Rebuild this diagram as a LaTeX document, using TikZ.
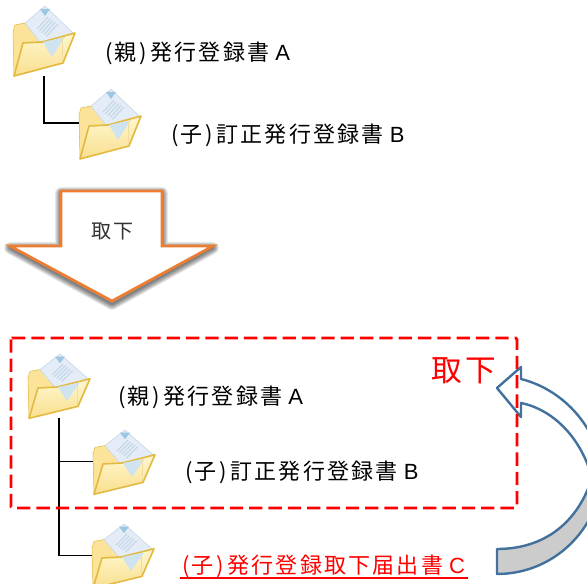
\documentclass[tikz,border=0pt]{standalone}
\usepackage{fontspec}
\usepackage{xcolor}
\setmainfont{Liberation Sans}
\newfontfamily\cjk[LetterSpace=10]{Noto Sans CJK JP}
\definecolor{orangeline}{HTML}{ED7D31}
\definecolor{blueline}{HTML}{41719C}
\definecolor{folderline}{HTML}{E3B93F}
\definecolor{folderback}{HTML}{FBE39A}
\definecolor{foldertop}{HTML}{FFF7CF}
\definecolor{folderbottom}{HTML}{F9DF8E}
\definecolor{docfill}{HTML}{E4EDF7}
\definecolor{docline}{HTML}{C3D5E6}
\definecolor{docflap}{HTML}{CFE3F0}
\definecolor{doctip}{HTML}{9CC6E3}
\def\doclabel#1#2{{\cjk (#1)\hspace{3pt}#2}}
\tikzset{
	label text/.style={inner sep=0pt, font=\fontsize{16.5}{20}\selectfont},
	folder/.pic={
		\draw [folderline, fill=folderback, line join=round] (1,-27) -- (3,-20) -- (13,-18) -- (34,-30) -- (30,-50) -- (2,-71) -- cycle;
		\draw [docline, fill=docfill] (33,-1) -- (61,-28) -- (38,-50) -- (13,-18) -- cycle;
		\fill [doctip] (28,-4) -- (38,-4) -- (33,-11) -- cycle;
		\foreach \t in {0,1,2,3,4}
			\draw [docline, thick] (36+\t*2.4,-12+\t*-1.8) -- (25+\t*2.4,-24+\t*-1.8);
		\draw [folderline, very thick, top color=foldertop, bottom color=folderbottom, line join=round] (2,-71) -- (11,-38) -- (30,-37) -- (63,-28) -- (51,-58) -- cycle;
		\fill [docflap] (31,-37) -- (53,-32) -- (40,-52) -- cycle;
		\draw [folderline!50!white] (50,-33) -- (50,-56);
		\coordinate (-s) at (32,-71);
		\coordinate (-w) at (1,-35);
	}
}

\begin{document}
\begin{tikzpicture}[x=0.75pt, y=0.75pt]
	\clip (0,0) rectangle (587,-584);
	\fill [white] (0,0) rectangle (587,-584);

	% upper tree
	\pic (fa) at (12,-5) {folder};
	\pic (fb) at (78,-88) {folder};
	\draw [thick] (fa-s) |- (fb-w);
	\node [label text, right] (la) at (105,-53) {\doclabel{親}{発行登録書} A};
	\node [label text, right] (lb) at (171,-135) {\doclabel{子}{訂正発行登録書} B};

	% big arrow
	\foreach \w in {1,2,...,9}
		\draw [black, opacity=0.07, line width=\w pt, line join=round] (61,-193) -- (162,-193) -- (162,-248) -- (213,-248) -- (112,-304) -- (10,-248) -- (61,-248) -- cycle;
	\draw [orangeline, line width=2pt, fill=white] (61,-191) -- (162,-191) -- (162,-246) -- (213,-246) -- (112,-301) -- (10,-246) -- (61,-246) -- cycle;
	\node [font=\fontsize{15}{18}\selectfont, black!80] (down) at (112,-232) {\cjk 取下};

	% lower tree
	\pic [yscale=0.92] (fc) at (27,-353) {folder};
	\pic [yscale=0.92] (fd) at (92,-429) {folder};
	\pic [yscale=0.92] (fe) at (91,-523) {folder};
	\draw [thick] (fc-s) |- (fd-w);
	\draw [thick] (fc-s) |- (fe-w);
	\node [label text, right] (lc) at (118,-397) {\doclabel{親}{発行登録書} A};
	\node [label text, right] (ld) at (185,-472) {\doclabel{子}{訂正発行登録書} B};
	\node [label text, right, red] (le) at (182,-566) {\doclabel{子}{発行登録取下届出書} C};
	\draw [red, line width=1.6pt] (180,-578) -- (468,-578);

	% curved arrow
	\fill [black!20] (497,-549) .. controls (545,-549) and (578,-522) .. (592,-478) -- (603,-478) .. controls (595,-535) and (550,-574) .. (497,-574) -- cycle;
	\draw [blueline, line width=1.8pt, line join=round] (592,-478) .. controls (578,-522) and (545,-549) .. (497,-549) -- (497,-574) .. controls (550,-574) and (595,-535) .. (603,-478);
	\draw [blueline, line width=1.8pt, fill=white, line join=round] (603,-478) .. controls (600,-430) and (565,-390) .. (521,-379) -- (521,-367) -- (497,-388) -- (521,-417) -- (521,-403) .. controls (555,-410) and (582,-440) .. (592,-478);

	% dashed box
	\draw [red, line width=2.2pt, dash pattern=on 10pt off 4.5pt, rounded corners=1pt] (11,-338) rectangle (517,-508);
	\node [red, font=\fontsize{23}{28}\selectfont] (gone) at (464,-371) {\cjk 取下};
\end{tikzpicture}
\end{document}
